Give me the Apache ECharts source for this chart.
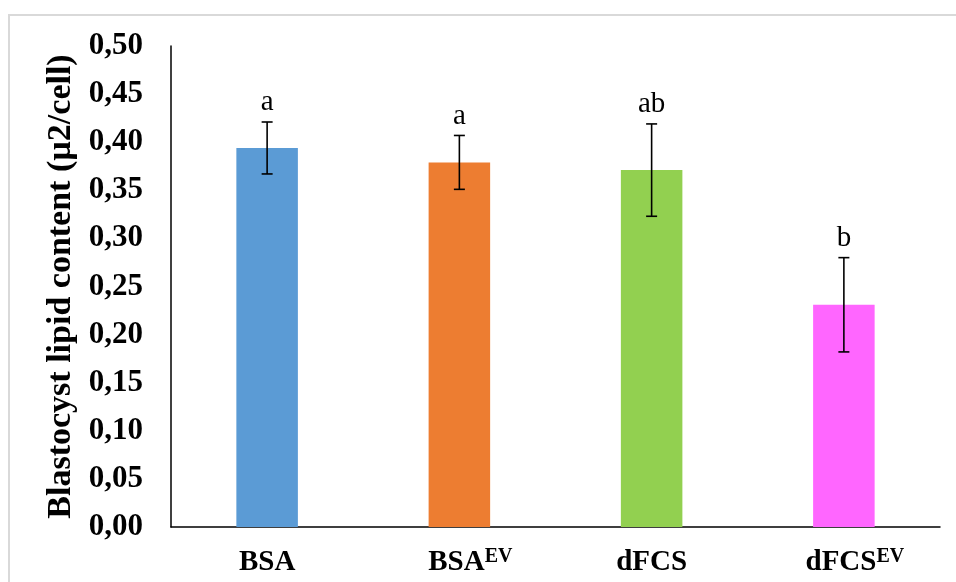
<!DOCTYPE html>
<html>
<head>
<meta charset="utf-8">
<style>
  html, body { margin: 0; padding: 0; background: #ffffff; }
  #chart { width: 956px; height: 582px; }
</style>
<script src="https://cdn.jsdelivr.net/npm/echarts@6/dist/echarts.min.js"></script>
</head>
<body>
<div id="chart"></div>
<script>
// Treatment groups; "^" marks the start of a superscript
const groups = ['BSA', 'BSA^EV', 'dFCS', 'dFCS^EV'];
// Mean blastocyst lipid content (µ2/cell)
const means = [0.394, 0.379, 0.371, 0.231];
// Error bar half-widths
const errors = [0.027, 0.028, 0.048, 0.049];
// Significance letters
const letters = ['a', 'a', 'ab', 'b'];
const barColors = ['#5b9bd5', '#ed7d31', '#92d050', '#ff66ff'];
const yTicks = { min: 0, max: 0.5, step: 0.05 };

const serif = "'Liberation Serif', 'Times New Roman', serif";

const chart = echarts.init(document.getElementById('chart'), null, { renderer: 'canvas' });

const errData = groups.map((g, i) => [i, means[i] - errors[i], means[i] + errors[i], letters[i]]);

chart.setOption({
  animation: false,
  backgroundColor: '#ffffff',
  graphic: [
    {
      type: 'polyline',
      shape: { points: [[9, 600], [9, 15], [960, 15]] },
      style: { stroke: '#d9d9d9', lineWidth: 2, fill: null },
      silent: true
    }
  ],
  grid: { left: 171, right: 16, top: 46, bottom: 55, containLabel: false },
  xAxis: {
    type: 'category',
    data: groups,
    axisLine: { lineStyle: { color: '#000000', width: 1.5 } },
    axisTick: { show: false },
    axisLabel: {
      interval: 0,
      hideOverlap: false,
      margin: 20,
      fontFamily: serif,
      fontWeight: 'bold',
      fontSize: 29,
      color: '#000000',
      formatter: function (v) {
        const parts = v.split('^');
        // an empty spacer on the left keeps the main name centred under the bar
        return parts.length > 1
          ? '{p|}{m|' + parts[0] + '}{s|' + parts[1] + '}'
          : '{m|' + v + '}';
      },
      rich: {
        p: { width: 22, fontSize: 20, lineHeight: 20 },
        m: { fontFamily: serif, fontWeight: 'bold', fontSize: 29, color: '#000', lineHeight: 32 },
        s: { fontFamily: serif, fontWeight: 'bold', fontSize: 20, color: '#000', verticalAlign: 'top', lineHeight: 20 }
      }
    }
  },
  yAxis: {
    type: 'value',
    min: yTicks.min,
    max: yTicks.max,
    interval: yTicks.step,
    name: 'Blastocyst lipid content (µ2/cell)',
    nameLocation: 'middle',
    nameGap: 92,
    nameRotate: 90,
    nameTextStyle: { fontFamily: serif, fontWeight: 'bold', fontSize: 34, color: '#000000' },
    axisLine: { show: true, lineStyle: { color: '#000000', width: 1.5 } },
    axisTick: { show: false },
    splitLine: { show: false },
    axisLabel: {
      margin: 28,
      fontFamily: serif,
      fontWeight: 'bold',
      fontSize: 31,
      color: '#000000',
      formatter: v => v.toFixed(2).replace('.', ',')
    }
  },
  series: [
    {
      type: 'bar',
      barWidth: '32%',
      data: means.map((v, i) => ({ value: v, itemStyle: { color: barColors[i] } })),
      z: 2
    },
    {
      type: 'custom',
      data: errData,
      z: 5,
      renderItem: function (params, api) {
        const x = api.coord([api.value(0), 0])[0];
        const lo = api.coord([api.value(0), api.value(1)])[1];
        const hi = api.coord([api.value(0), api.value(2)])[1];
        const cap = 5.5;
        const st = { stroke: '#000000', lineWidth: 1.6 };
        return {
          type: 'group',
          children: [
            { type: 'line', shape: { x1: x, y1: lo, x2: x, y2: hi }, style: st },
            { type: 'line', shape: { x1: x - cap, y1: lo, x2: x + cap, y2: lo }, style: st },
            { type: 'line', shape: { x1: x - cap, y1: hi, x2: x + cap, y2: hi }, style: st },
            {
              type: 'text',
              x: x,
              y: hi - 5,
              style: {
                text: letters[params.dataIndex],
                fontFamily: serif,
                fontSize: 29,
                fill: '#000000',
                textAlign: 'center',
                textVerticalAlign: 'bottom'
              }
            }
          ]
        };
      }
    }
  ]
});
</script>
</body>
</html>
